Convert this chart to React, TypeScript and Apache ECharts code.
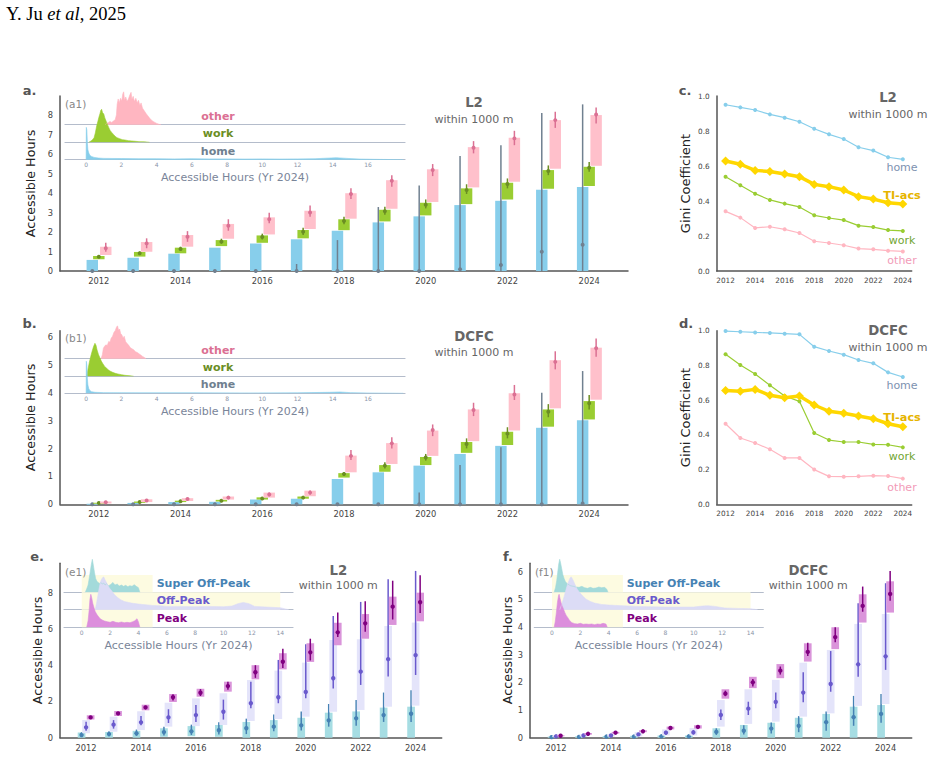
import React, { useEffect, useRef } from 'react';
import * as echarts from 'echarts';

// ---------------- data ----------------
const years = [2012, 2013, 2014, 2015, 2016, 2017, 2018, 2019, 2020, 2021, 2022, 2023, 2024];
const evenYears = [2012, 2014, 2016, 2018, 2020, 2022, 2024];
const aYTicks = [0, 1, 2, 3, 4, 5, 6, 7, 8];
const bYTicks = [0, 1, 2, 3, 4, 5, 6];
const eYTicks = [0, 2, 4, 6, 8];
const fYTicks = [0, 1, 2, 3, 4, 5, 6];
const giniTicks = [0, 0.2, 0.4, 0.6, 0.8, 1.0];
const insetTicksA = [0, 2, 4, 6, 8, 10, 12, 14, 16];
const insetTicksE = [0, 2, 4, 6, 8, 10, 12, 14];

// box rows: [low, high, centre dot, whisker low, whisker high]
const aHome = [[0,0.57,0,0,0],[0,0.68,0,0,0],[0,0.89,0,0,0],[0,1.2,0,0,0],[0,1.42,0,0,0],[0,1.63,0,0,0.36],[0,2.07,0,0,1.59],[0,2.5,0,0,3.29],[0,2.81,0,0,4.4],[0,3.39,0.09,0,5.91],[0,3.61,0.31,0,6.47],[0,4.18,0.99,0,8.12],[0,4.32,1.35,0,8.57]];
const aWork = [[0.6,0.77,0.73,0.68,0.8],[0.74,0.98,0.91,0.84,1.0],[0.91,1.2,1.13,1.03,1.25],[1.28,1.59,1.51,1.4,1.66],[1.45,1.83,1.75,1.62,1.92],[1.68,2.11,2.02,1.85,2.23],[2.1,2.66,2.57,2.41,2.79],[2.55,3.15,3.07,2.89,3.3],[2.86,3.51,3.41,3.22,3.68],[3.44,4.25,4.16,3.96,4.46],[3.68,4.54,4.47,4.25,4.76],[4.23,5.19,5.14,4.93,5.43],[4.37,5.36,5.31,5.1,5.6]];
const aOther = [[0.82,1.25,1.17,0.99,1.45],[0.99,1.49,1.42,1.17,1.68],[1.25,1.85,1.76,1.5,2.05],[1.66,2.42,2.33,2.07,2.66],[1.88,2.76,2.66,2.45,3.0],[2.16,3.1,3.01,2.79,3.37],[2.69,4.0,3.96,3.7,4.25],[3.2,4.67,4.64,4.33,4.93],[3.55,5.23,5.19,4.88,5.5],[4.3,6.37,6.34,6.05,6.68],[4.59,6.85,6.82,6.47,7.21],[5.26,7.76,7.76,7.36,8.19],[5.41,8.02,8.05,7.59,8.41]];

const bHome = [[0,0.02,0,0,0],[0,0.05,0,0,0],[0,0.08,0,0,0],[0,0.09,0,0,0],[0,0.17,0,0,0],[0,0.2,0,0,0],[0,0.91,0,0,0],[0,1.15,0,0,0],[0,1.39,0,0,0.42],[0,1.81,0,0,1.41],[0,2.1,0,0,2.05],[0,2.75,0,0,4.01],[0,3.02,0.03,0,4.79]];
const bWork = [[0.03,0.06,0.05,0.04,0.06],[0.05,0.1,0.08,0.06,0.1],[0.08,0.13,0.11,0.09,0.13],[0.1,0.16,0.13,0.11,0.16],[0.17,0.25,0.21,0.18,0.25],[0.2,0.28,0.24,0.21,0.28],[0.96,1.12,1.09,1.02,1.16],[1.17,1.41,1.39,1.29,1.51],[1.41,1.7,1.68,1.57,1.81],[1.85,2.24,2.17,2.01,2.37],[2.13,2.61,2.54,2.37,2.77],[2.79,3.41,3.33,3.13,3.6],[3.05,3.71,3.63,3.41,3.93]];
const bOther = [[0.03,0.1,0.07,0.05,0.1],[0.08,0.18,0.14,0.1,0.18],[0.12,0.22,0.19,0.15,0.23],[0.17,0.28,0.24,0.2,0.29],[0.24,0.42,0.35,0.29,0.42],[0.29,0.49,0.42,0.35,0.5],[1.15,1.75,1.74,1.59,1.95],[1.45,2.2,2.19,2.01,2.41],[1.74,2.65,2.67,2.45,2.87],[2.27,3.41,3.39,3.17,3.65],[2.65,3.99,3.95,3.75,4.29],[3.45,5.18,5.12,4.85,5.5],[3.76,5.63,5.61,5.3,5.96]];

const eSuper = [[0,0.28,0.15,0.05,0.3],[0,0.31,0.2,0.08,0.35],[0,0.38,0.24,0.1,0.45],[0.05,0.52,0.31,0.12,0.6],[0.08,0.64,0.35,0.15,0.72],[0.05,0.7,0.41,0.18,0.85],[0,0.87,0.52,0.2,1.05],[0,0.97,0.61,0.36,1.28],[0,1.1,0.68,0.4,1.45],[0,1.38,0.96,0.61,1.86],[0,1.45,1.07,0.66,2.08],[0,1.66,1.25,0.87,2.49],[0,1.71,1.32,0.87,2.62]];
const eOff = [[0.24,0.98,0.57,0.39,0.88],[0.33,1.16,0.72,0.5,0.97],[0.42,1.46,0.85,0.68,1.2],[0.61,1.93,1.12,0.81,1.57],[0.64,2.17,1.25,0.87,1.8],[0.7,2.45,1.43,1.0,2.1],[0.92,3.18,1.9,1.62,3.09],[1.03,3.7,2.23,1.9,4.29],[1.16,4.14,2.52,2.17,5.15],[1.43,5.39,3.28,2.72,6.71],[1.53,5.43,3.64,2.91,7.49],[1.71,6.16,4.33,3.37,8.74],[1.77,6.35,4.55,3.46,9.2]];
const ePeak = [[1.01,1.24,1.12,1.05,1.2],[1.2,1.47,1.34,1.25,1.42],[1.51,1.82,1.67,1.58,1.76],[1.97,2.41,2.23,2.05,2.4],[2.26,2.7,2.48,2.3,2.68],[2.54,3.09,2.85,2.65,3.09],[3.22,4.0,3.61,3.3,4.0],[3.77,4.66,4.19,3.85,4.9],[4.18,5.21,4.71,4.26,5.46],[5.1,6.34,5.81,5.56,6.9],[5.46,6.82,6.31,5.85,7.52],[6.22,7.78,7.23,6.52,8.66],[6.42,8.0,7.47,6.88,8.96]];

const fSuper = [[0,0.04,0.02,0.01,0.04],[0,0.05,0.03,0.01,0.05],[0,0.06,0.04,0.02,0.06],[0,0.07,0.04,0.02,0.07],[0,0.08,0.05,0.02,0.08],[0,0.08,0.05,0.02,0.08],[0,0.34,0.21,0.1,0.34],[0,0.46,0.25,0.12,0.45],[0,0.54,0.33,0.15,0.55],[0,0.72,0.43,0.2,0.78],[0,0.86,0.56,0.25,0.95],[0,1.12,0.74,0.43,1.51],[0,1.18,0.86,0.54,1.58]];
const fOff = [[0.02,0.08,0.05,0.03,0.07],[0.04,0.12,0.08,0.05,0.11],[0.04,0.13,0.08,0.05,0.12],[0.05,0.2,0.12,0.07,0.17],[0.08,0.3,0.18,0.11,0.25],[0.08,0.35,0.19,0.12,0.28],[0.4,1.36,0.82,0.64,1.02],[0.5,1.75,1.05,0.82,1.3],[0.58,2.09,1.29,1.06,1.63],[0.76,2.71,1.63,1.28,2.36],[0.88,3.17,1.94,1.66,3.13],[1.15,4.11,2.65,2.2,4.86],[1.22,4.47,2.94,2.45,5.58]];
const fPeak = [[0.05,0.09,0.07,0.05,0.09],[0.11,0.17,0.14,0.12,0.16],[0.15,0.21,0.18,0.16,0.2],[0.2,0.27,0.23,0.21,0.26],[0.3,0.4,0.35,0.31,0.39],[0.33,0.45,0.39,0.35,0.43],[1.41,1.75,1.59,1.5,1.7],[1.79,2.2,2.0,1.85,2.12],[2.15,2.66,2.42,2.28,2.57],[2.75,3.41,3.1,2.95,3.43],[3.2,3.99,3.63,3.45,3.99],[4.16,5.18,4.76,4.55,5.46],[4.52,5.65,5.19,4.95,6.02]];

// Gini coefficients
const cHome = [0.95,0.935,0.92,0.895,0.876,0.853,0.813,0.781,0.754,0.707,0.688,0.65,0.638];
const cTI = [0.629,0.61,0.575,0.568,0.554,0.539,0.495,0.482,0.463,0.425,0.411,0.39,0.383];
const cWork = [0.539,0.49,0.442,0.406,0.385,0.366,0.318,0.303,0.291,0.259,0.251,0.234,0.229];
const cOther = [0.341,0.305,0.246,0.253,0.238,0.217,0.17,0.16,0.147,0.128,0.124,0.116,0.112];
const dHome = [0.998,0.994,0.99,0.987,0.983,0.979,0.908,0.883,0.862,0.831,0.812,0.76,0.733];
const dTI = [0.656,0.651,0.662,0.628,0.614,0.624,0.572,0.536,0.524,0.509,0.493,0.464,0.447];
const dWork = [0.864,0.802,0.751,0.686,0.624,0.593,0.411,0.37,0.359,0.359,0.345,0.343,0.328];
const dOther = [0.464,0.382,0.353,0.317,0.267,0.267,0.2,0.161,0.159,0.161,0.165,0.163,0.148];

// inset densities (x hours, normalised height)
const a1Other = [[1.1,0],[1.15,0.04],[1.25,0.06],[1.35,0.1],[1.45,0.07],[1.55,0.11],[1.65,0.15],[1.72,0.3],[1.76,0.62],[1.82,0.78],[1.88,0.66],[1.95,0.8],[2.02,0.72],[2.08,0.93],[2.13,1.0],[2.18,0.74],[2.25,0.84],[2.32,0.7],[2.4,0.78],[2.48,0.9],[2.55,0.98],[2.6,0.76],[2.67,0.86],[2.74,0.7],[2.82,0.8],[2.9,0.66],[2.97,0.74],[3.05,0.58],[3.12,0.66],[3.2,0.5],[3.3,0.42],[3.4,0.34],[3.5,0.27],[3.6,0.2],[3.7,0.14],[3.8,0.1],[3.9,0.07],[4.0,0.04],[4.15,0.01],[4.25,0]];
const a1Work = [[0.15,0],[0.25,0.03],[0.35,0.07],[0.45,0.14],[0.52,0.28],[0.6,0.5],[0.66,0.62],[0.72,0.75],[0.78,0.86],[0.84,0.98],[0.88,1.0],[0.93,0.9],[1.0,0.86],[1.06,0.74],[1.12,0.66],[1.2,0.55],[1.28,0.45],[1.36,0.36],[1.45,0.3],[1.55,0.24],[1.65,0.18],[1.75,0.14],[1.9,0.11],[2.05,0.08],[2.2,0.07],[2.4,0.05],[2.6,0.04],[2.8,0.03],[3.0,0.02],[3.3,0.015],[3.6,0]];
const a1Home = [[0,0],[0.01,0.98],[0.04,0.9],[0.07,0.5],[0.1,0.3],[0.15,0.2],[0.22,0.13],[0.3,0.1],[0.45,0.07],[0.7,0.05],[1.0,0.04],[2,0.035],[3,0.03],[4,0.03],[5,0.025],[6,0.03],[7,0.025],[8,0.025],[9,0.02],[10,0.025],[11,0.02],[12,0.025],[13,0.03],[13.6,0.045],[14.2,0.06],[14.8,0.04],[15.5,0.02],[16.5,0.01],[18,0]];
const b1Other = [[0.85,0],[0.92,0.12],[0.98,0.32],[1.05,0.38],[1.12,0.42],[1.2,0.4],[1.28,0.52],[1.35,0.5],[1.42,0.62],[1.5,0.68],[1.58,0.8],[1.65,0.85],[1.72,0.95],[1.78,1.0],[1.84,0.86],[1.9,0.9],[1.96,0.76],[2.03,0.72],[2.1,0.62],[2.16,0.68],[2.24,0.52],[2.32,0.46],[2.4,0.42],[2.5,0.34],[2.6,0.3],[2.7,0.27],[2.8,0.21],[2.9,0.19],[3.0,0.15],[3.1,0.11],[3.2,0.07],[3.3,0.04],[3.4,0]];
const b1Work = [[0.05,0],[0.1,0.2],[0.18,0.42],[0.26,0.6],[0.34,0.76],[0.42,0.9],[0.5,1.0],[0.56,0.94],[0.62,0.8],[0.7,0.66],[0.78,0.56],[0.86,0.46],[0.95,0.38],[1.05,0.3],[1.15,0.25],[1.25,0.2],[1.35,0.16],[1.5,0.12],[1.65,0.09],[1.8,0.07],[2.0,0.05],[2.2,0.03],[2.5,0.015],[2.7,0]];
const b1Home = [[0,0],[0.01,0.97],[0.04,0.85],[0.07,0.45],[0.1,0.25],[0.15,0.14],[0.22,0.08],[0.3,0.05],[0.5,0.03],[1,0.02],[3,0.015],[6,0.015],[9,0.012],[12,0.015],[13.8,0.03],[14.4,0.04],[15,0.02],[16,0.01],[18,0]];
const e1Super = [[0.25,0],[0.35,0.1],[0.45,0.22],[0.52,0.4],[0.6,0.62],[0.68,0.85],[0.75,1.0],[0.82,0.82],[0.9,0.6],[0.98,0.42],[1.06,0.34],[1.15,0.3],[1.25,0.27],[1.35,0.3],[1.45,0.25],[1.55,0.28],[1.65,0.22],[1.75,0.26],[1.9,0.2],[2.05,0.24],[2.2,0.3],[2.35,0.22],[2.5,0.25],[2.65,0.19],[2.8,0.22],[2.95,0.18],[3.1,0.21],[3.25,0.17],[3.4,0.2],[3.55,0.18],[3.7,0.23],[3.85,0.18],[4.0,0.14],[4.1,0]];
const e1Off = [[0.95,0],[1.05,0.2],[1.15,0.45],[1.25,0.7],[1.35,0.88],[1.45,0.96],[1.55,1.0],[1.65,0.9],[1.8,0.78],[1.95,0.66],[2.1,0.58],[2.3,0.46],[2.5,0.38],[2.75,0.3],[3.0,0.25],[3.5,0.2],[4.0,0.17],[4.5,0.15],[5.0,0.13],[5.5,0.12],[6.0,0.1],[7.0,0.1],[8.0,0.09],[9.0,0.1],[10.0,0.09],[10.6,0.11],[11.0,0.18],[11.4,0.22],[11.8,0.18],[12.2,0.1],[13.0,0.08],[14.0,0.06],[14.6,0]];
const e1Peak = [[0.35,0],[0.45,0.2],[0.52,0.5],[0.58,0.85],[0.64,1.0],[0.7,0.9],[0.78,0.72],[0.86,0.6],[0.95,0.48],[1.05,0.4],[1.15,0.34],[1.3,0.26],[1.45,0.22],[1.6,0.19],[1.8,0.17],[2.0,0.15],[2.2,0.18],[2.4,0.15],[2.6,0.14],[2.8,0.16],[3.0,0.14],[3.2,0.15],[3.4,0.14],[3.6,0.17],[3.75,0.2],[3.9,0.26],[4.0,0.16],[4.1,0]];
const f1Super = [[0.15,0],[0.25,0.15],[0.33,0.35],[0.4,0.6],[0.47,0.85],[0.54,1.0],[0.6,0.9],[0.68,0.72],[0.76,0.54],[0.85,0.42],[0.95,0.32],[1.1,0.25],[1.3,0.2],[1.5,0.18],[1.7,0.16],[1.9,0.15],[2.1,0.18],[2.3,0.14],[2.5,0.12],[2.7,0.15],[2.9,0.12],[3.1,0.13],[3.3,0.16],[3.5,0.14],[3.7,0.15],[3.85,0.1],[3.95,0]];
const f1Off = [[0.55,0],[0.65,0.12],[0.8,0.32],[0.95,0.55],[1.1,0.78],[1.25,0.94],[1.35,1.0],[1.48,0.9],[1.62,0.76],[1.78,0.62],[1.95,0.52],[2.15,0.42],[2.4,0.32],[2.7,0.25],[3.0,0.2],[3.5,0.16],[4.0,0.14],[5.0,0.12],[6.0,0.1],[7.0,0.09],[8.0,0.08],[9.0,0.08],[10.0,0.08],[10.6,0.11],[11.0,0.12],[11.5,0.1],[12.2,0.05],[13.0,0.04],[14.0,0.03],[14.5,0]];
const f1Peak = [[0.15,0],[0.22,0.15],[0.3,0.42],[0.38,0.75],[0.46,0.96],[0.5,1.0],[0.56,0.88],[0.64,0.74],[0.72,0.64],[0.8,0.56],[0.9,0.45],[1.0,0.36],[1.1,0.3],[1.25,0.2],[1.4,0.14],[1.6,0.11],[1.8,0.1],[2.0,0.12],[2.2,0.09],[2.4,0.1],[2.6,0.09],[2.8,0.1],[3.0,0.08],[3.2,0.1],[3.4,0.09],[3.6,0.12],[3.8,0.1],[3.9,0]];
// time-of-use windows (hours) shaded in the e1/f1 insets
const touWindows = [5, 14, 5];

// ---------------- styling ----------------
const FONT = '"DejaVu Sans", Verdana, sans-serif';
const AX = '#555';
const TICK = '#444';
const BOX_W = 0.28;

function boxSeries(grid: number, rows: number[][], offset: number, boxColor: string, markColor: string, r: number) {
  return {
    type: 'custom',
    xAxisIndex: grid,
    yAxisIndex: grid,
    z: 3,
    data: years.map((y, i) => [y, ...rows[i]]),
    renderItem: (_p: any, api: any) => {
      const x = api.value(0) + offset;
      const lo = api.value(1), hi = api.value(2), mid = api.value(3), wlo = api.value(4), whi = api.value(5);
      const tl = api.coord([x - BOX_W / 2, hi]);
      const br = api.coord([x + BOX_W / 2, lo]);
      const m = api.coord([x, mid]);
      const w1 = api.coord([x, wlo]);
      const w2 = api.coord([x, whi]);
      return {
        type: 'group',
        children: [
          { type: 'rect', shape: { x: tl[0], y: tl[1], width: br[0] - tl[0], height: Math.max(br[1] - tl[1], 1) }, style: { fill: boxColor } },
          { type: 'line', shape: { x1: w1[0], y1: w1[1], x2: w2[0], y2: w2[1] }, style: { stroke: markColor, lineWidth: 1.5 } },
          { type: 'circle', shape: { cx: m[0], cy: m[1], r }, style: { fill: markColor } },
        ],
      };
    },
  };
}

function mainX(grid: number, min: number, max: number, fs: number) {
  return {
    type: 'value', gridIndex: grid, min, max,
    axisLine: { show: true, onZero: false, lineStyle: { color: AX, width: 1.5 } },
    axisTick: { show: false },
    splitLine: { show: false },
    axisLabel: { customValues: evenYears, formatter: (v: number) => String(v), fontSize: fs, color: TICK, fontFamily: FONT, margin: 6 },
  };
}
function mainY(grid: number, max: number, ticks: number[], name: string, gap: number, fs: number, fmt: (v: number) => string, nameSize: number) {
  return {
    type: 'value', gridIndex: grid, min: 0, max,
    name, nameLocation: 'middle', nameGap: gap,
    nameTextStyle: { fontSize: nameSize, color: '#222', fontFamily: FONT },
    axisLine: { show: true, lineStyle: { color: AX, width: 1.5 } },
    axisTick: { show: false },
    splitLine: { show: false },
    axisLabel: { customValues: ticks, formatter: fmt, fontSize: fs, color: TICK, fontFamily: FONT, margin: 7 },
  };
}
function insetX(grid: number, min: number, max: number, ticks: number[] | null) {
  return {
    type: 'value', gridIndex: grid, min, max,
    axisLine: { show: true, lineStyle: { color: '#b4bccb', width: 1.2 } },
    axisTick: { show: false },
    splitLine: { show: false },
    axisLabel: ticks ? { customValues: ticks, formatter: (v: number) => String(v), fontSize: 6, color: '#8a94a8', fontFamily: FONT, margin: 2 } : { show: false },
    name: ticks ? 'Accessible Hours (Yr 2024)' : '',
    nameLocation: 'middle',
    nameGap: 12.5,
    nameTextStyle: { fontSize: 11, color: '#7a8599', fontFamily: FONT },
  };
}
function insetY(grid: number) {
  return { type: 'value', gridIndex: grid, min: 0, max: 1, show: false };
}
function density(grid: number, data: number[][], color: string) {
  return {
    type: 'line', xAxisIndex: grid, yAxisIndex: grid, data, symbol: 'none', z: 4,
    lineStyle: { width: 0.6, color }, areaStyle: { color, opacity: 1 },
  };
}
function touShade(grid: number, hours: number) {
  return {
    type: 'line', xAxisIndex: grid, yAxisIndex: grid, data: [], z: 2, silent: true,
    markArea: { silent: true, itemStyle: { color: '#fdfbe1' }, data: [[{ coord: [0, 0] }, { coord: [hours, 0.527] }]] },
  };
}
function giniLine(grid: number, vals: number[], color: string, thick: boolean) {
  return {
    type: 'line', xAxisIndex: grid, yAxisIndex: grid, z: thick ? 5 : 4,
    data: years.map((y, i) => [y, vals[i]]),
    symbol: thick ? 'diamond' : 'circle', symbolSize: thick ? 9 : 4,
    itemStyle: { color },
    lineStyle: { color, width: thick ? 3.5 : 1.2 },
  };
}
function txt(x: number, y: number, text: string, color: string, size: number, bold = false, align = 'center') {
  return {
    type: 'text', x, y, silent: true, z: 100,
    style: { text, fill: color, fontSize: size, fontWeight: bold ? 'bold' : 'normal', fontFamily: FONT, align, textAlign: align, verticalAlign: 'middle', textVerticalAlign: 'middle' },
  };
}

const intFmt = (v: number) => String(v);
const giniFmt = (v: number) => v.toFixed(1);

const grids = [
  { left: 60, top: 96, width: 568, height: 175 },       // 0 a
  { left: 65, top: 91.7, width: 340, height: 33 },      // 1 a1 other
  { left: 65, top: 109.3, width: 340, height: 33 },     // 2 a1 work
  { left: 65, top: 126.7, width: 340, height: 33 },     // 3 a1 home
  { left: 60, top: 330.7, width: 568, height: 173.6 },  // 4 b
  { left: 65, top: 325.7, width: 340, height: 33 },     // 5 b1 other
  { left: 65, top: 343.3, width: 340, height: 33 },     // 6 b1 work
  { left: 65, top: 360.3, width: 340, height: 33 },     // 7 b1 home
  { left: 716.7, top: 96, width: 195, height: 175 },    // 8 c
  { left: 716.7, top: 330.7, width: 195, height: 173.6 }, // 9 d
  { left: 60, top: 563.3, width: 381.7, height: 174.4 }, // 10 e
  { left: 64, top: 559.3, width: 229, height: 33 },     // 11 e1 super
  { left: 64, top: 576.7, width: 229, height: 33 },     // 12 e1 off
  { left: 64, top: 594.3, width: 229, height: 33 },     // 13 e1 peak
  { left: 530, top: 563.3, width: 381.7, height: 174.4 }, // 14 f
  { left: 534.3, top: 559.3, width: 229, height: 33 },  // 15 f1 super
  { left: 534.3, top: 576.7, width: 229, height: 33 },  // 16 f1 off
  { left: 534.3, top: 594.3, width: 229, height: 33 },  // 17 f1 peak
];

function buildOption() {
  const YMIN = 2011.05, YMAX = 2024.95;
  const AH = 'Accessible Hours';
  const xAxis: any[] = [
    mainX(0, YMIN, YMAX, 8.3),
    insetX(1, -1.2, 18.1, null), insetX(2, -1.2, 18.1, null), insetX(3, -1.2, 18.1, insetTicksA),
    mainX(4, YMIN, YMAX, 8.3),
    insetX(5, -1.2, 18.1, null), insetX(6, -1.2, 18.1, null), insetX(7, -1.2, 18.1, insetTicksA),
    mainX(8, 2011.4, 2024.6, 7.3),
    mainX(9, 2011.4, 2024.6, 7.3),
    mainX(10, YMIN, YMAX, 8.3),
    insetX(11, -1.25, 14.9, null), insetX(12, -1.25, 14.9, null), insetX(13, -1.25, 14.9, insetTicksE),
    mainX(14, YMIN, YMAX, 8.3),
    insetX(15, -1.25, 14.9, null), insetX(16, -1.25, 14.9, null), insetX(17, -1.25, 14.9, insetTicksE),
  ];
  const yAxis: any[] = [
    mainY(0, 9, aYTicks, AH, 16, 8.3, intFmt, 12.7),
    insetY(1), insetY(2), insetY(3),
    mainY(4, 6.24, bYTicks, AH, 16, 8.3, intFmt, 12.7),
    insetY(5), insetY(6), insetY(7),
    mainY(8, 1, giniTicks, 'Gini Coefficient', 25, 7.3, giniFmt, 13),
    mainY(9, 1, giniTicks, 'Gini Coefficient', 25, 7.3, giniFmt, 13),
    mainY(10, 9.62, eYTicks, AH, 16, 8.3, intFmt, 12.7),
    insetY(11), insetY(12), insetY(13),
    mainY(14, 6.3, fYTicks, AH, 16, 8.3, intFmt, 12.7),
    insetY(15), insetY(16), insetY(17),
  ];

  const HOME = '#87ceeb', HOME_M = '#708090';
  const WORK = '#9acd32', WORK_M = '#6b8e23';
  const OTH = '#ffc0cb', OTH_M = '#db7093';
  const SUP = '#a6dde3', SUP_M = '#4682b4';
  const OFF = '#e4e4fa', OFF_M = '#6a5acd';
  const PK = '#da94da', PK_M = '#800080';

  const series: any[] = [
    boxSeries(0, aHome, -0.16, HOME, HOME_M, 2),
    boxSeries(0, aWork, 0, WORK, WORK_M, 2),
    boxSeries(0, aOther, 0.17, OTH, OTH_M, 2),
    density(1, a1Other, '#ffb6c1'), density(2, a1Work, WORK), density(3, a1Home, HOME),

    boxSeries(4, bHome, -0.16, HOME, HOME_M, 2),
    boxSeries(4, bWork, 0, WORK, WORK_M, 2),
    boxSeries(4, bOther, 0.17, OTH, OTH_M, 2),
    density(5, b1Other, '#ffb6c1'), density(6, b1Work, WORK), density(7, b1Home, HOME),

    giniLine(8, cHome, HOME, false), giniLine(8, cWork, WORK, false), giniLine(8, cOther, '#ffb6c1', false), giniLine(8, cTI, '#ffd700', true),
    giniLine(9, dHome, HOME, false), giniLine(9, dWork, WORK, false), giniLine(9, dOther, '#ffb6c1', false), giniLine(9, dTI, '#ffd700', true),

    boxSeries(10, eSuper, -0.165, SUP, SUP_M, 2.2),
    boxSeries(10, eOff, 0, OFF, OFF_M, 2.2),
    boxSeries(10, ePeak, 0.165, PK, PK_M, 2.2),
    touShade(11, touWindows[0]), touShade(12, touWindows[1]), touShade(13, touWindows[2]),
    density(11, e1Super, '#a3dada'), density(12, e1Off, '#dcdcf6'), density(13, e1Peak, '#dc8edc'),

    boxSeries(14, fSuper, -0.165, SUP, SUP_M, 2.2),
    boxSeries(14, fOff, 0, OFF, OFF_M, 2.2),
    boxSeries(14, fPeak, 0.165, PK, PK_M, 2.2),
    touShade(15, touWindows[0]), touShade(16, touWindows[1]), touShade(17, touWindows[2]),
    density(15, f1Super, '#a3dada'), density(16, f1Off, '#dcdcf6'), density(17, f1Peak, '#dc8edc'),
  ];

  const T = '#666';
  const graphic: any[] = [
    {
      type: 'text', x: 6, y: 14, silent: true,
      style: {
        text: '{n|Y. Ju }{i|et al}{n|, 2025}', verticalAlign: 'middle', textVerticalAlign: 'middle',
        rich: {
          n: { fontFamily: '"Liberation Serif", "Times New Roman", serif', fontSize: 18.5, fill: '#000', color: '#000' },
          i: { fontFamily: '"Liberation Serif", "Times New Roman", serif', fontSize: 18.5, fontStyle: 'italic', fill: '#000', color: '#000' },
        },
      },
    },
    txt(29.5, 90, 'a.', '#555', 13, true), txt(29.5, 323.3, 'b.', '#555', 13, true),
    txt(685, 90, 'c.', '#555', 13, true), txt(686, 323.3, 'd.', '#555', 13, true),
    txt(37, 556.7, 'e.', '#555', 13, true), txt(508, 556, 'f.', '#555', 13, true),

    txt(65, 104, '(a1)', '#888', 10.5, false, 'left'),
    txt(65, 338.3, '(b1)', '#888', 10.5, false, 'left'),
    txt(65, 571.7, '(e1)', '#888', 10.5, false, 'left'),
    txt(535, 571.7, '(f1)', '#888', 10.5, false, 'left'),

    txt(218, 116.3, 'other', '#db7093', 11, true), txt(218, 133.7, 'work', '#6b8e23', 11, true), txt(218, 151.3, 'home', '#708090', 11, true),
    txt(218, 350, 'other', '#db7093', 11, true), txt(218, 367.7, 'work', '#6b8e23', 11, true), txt(218, 384.7, 'home', '#708090', 11, true),

    txt(156.7, 583.3, 'Super Off-Peak', '#4682b4', 11, true, 'left'),
    txt(156.7, 600.7, 'Off-Peak', '#6a5acd', 11, true, 'left'),
    txt(156.7, 618.3, 'Peak', '#800080', 11, true, 'left'),
    txt(626.7, 583.3, 'Super Off-Peak', '#4682b4', 11, true, 'left'),
    txt(626.7, 600.7, 'Off-Peak', '#6a5acd', 11, true, 'left'),
    txt(626.7, 618.3, 'Peak', '#800080', 11, true, 'left'),

    txt(474, 102.7, 'L2', T, 13.3, true), txt(474, 119, 'within 1000 m', T, 11),
    txt(474, 336, 'DCFC', T, 13.3, true), txt(474, 352.3, 'within 1000 m', T, 11),
    txt(888, 97.3, 'L2', T, 13.3, true), txt(888, 114, 'within 1000 m', T, 11),
    txt(888, 330.7, 'DCFC', T, 13.3, true), txt(888, 347.3, 'within 1000 m', T, 11),
    txt(338.3, 570, 'L2', T, 13.3, true), txt(338.3, 585.7, 'within 1000 m', T, 11),
    txt(808.3, 570, 'DCFC', T, 13.3, true), txt(808.3, 585.7, 'within 1000 m', T, 11),

    txt(902, 167.7, 'home', '#7d92b0', 11), txt(902, 195, 'TI-acs', '#e6b400', 11.3, true),
    txt(902, 240, 'work', '#72a532', 11), txt(902, 260, 'other', '#f29bb8', 11),
    txt(902, 385, 'home', '#7d92b0', 11), txt(902, 417.7, 'TI-acs', '#e6b400', 11.3, true),
    txt(902, 456, 'work', '#72a532', 11), txt(902, 487.3, 'other', '#f29bb8', 11),
  ];

  return {
    animation: false,
    backgroundColor: '#ffffff',
    textStyle: { fontFamily: FONT },
    grid: grids.map((g) => ({ ...g, containLabel: false, show: false })),
    xAxis,
    yAxis,
    series,
    graphic,
  };
}

export default function App() {
  const ref = useRef<HTMLDivElement>(null);
  useEffect(() => {
    if (!ref.current) return;
    const chart = echarts.init(ref.current, undefined, { renderer: 'svg' });
    chart.setOption(buildOption() as any);
    return () => chart.dispose();
  }, []);
  return (
    <div
      ref={ref}
      style={{ position: 'absolute', left: 0, top: 0, width: 934, height: 759, background: '#fff' }}
    />
  );
}
